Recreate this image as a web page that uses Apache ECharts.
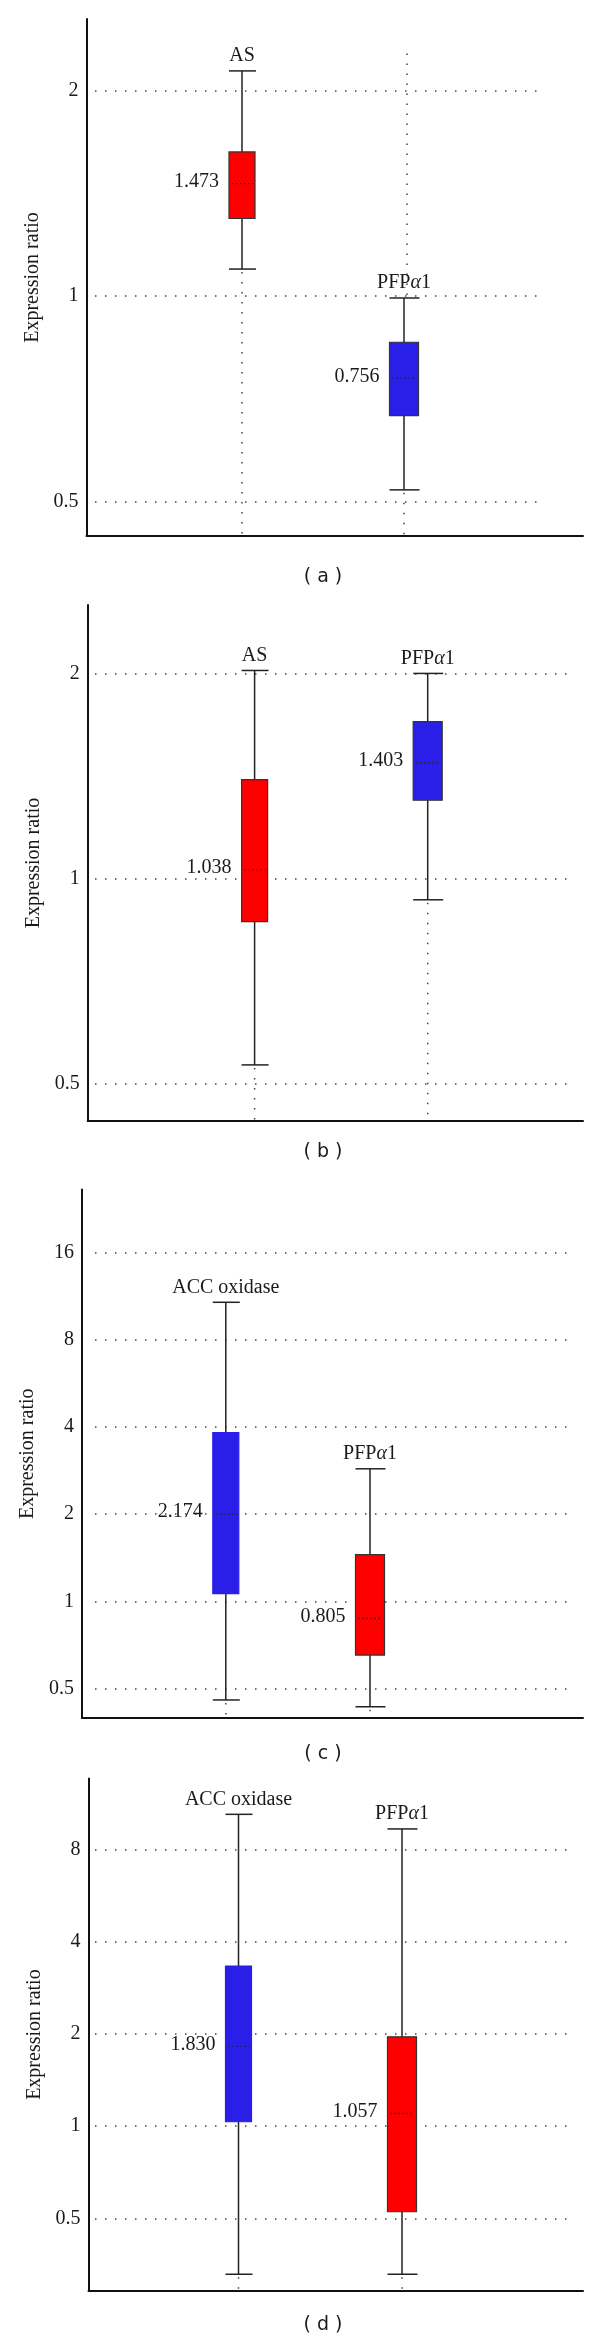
<!DOCTYPE html>
<html><head><meta charset="utf-8">
<script src="https://cdn.jsdelivr.net/npm/echarts@6/dist/echarts.min.js"></script>
<style>html,body{margin:0;padding:0;background:#fff}#c{width:600px;height:2341px}</style>
</head><body><div id="c"></div>
<script>
// ---------- DATA ----------
const catsA = ['AS', 'PFPα1'];
const catsB = ['AS', 'PFPα1'];
const catsC = ['ACC oxidase', 'PFPα1'];
const catsD = ['ACC oxidase', 'PFPα1'];
// each box: [lower whisker, Q1, median, Q3, upper whisker]
const boxesA = [[1.096, 1.30, 1.463, 1.628, 2.14], [0.520, 0.668, 0.758, 0.856, 0.994]];
const boxesB = [[0.533, 0.865, 1.03, 1.397, 2.02], [0.931, 1.303, 1.48, 1.70, 2.00]];
const boxesC = [[0.456, 1.063, 2.0, 3.83, 10.8], [0.432, 0.652, 0.872, 1.45, 2.87]];
const boxesD = [[0.329, 1.034, 1.82, 3.33, 10.4], [0.329, 0.526, 1.10, 1.957, 9.32]];
const medLabelsA = ['1.473', '0.756'];
const medLabelsB = ['1.038', '1.403'];
const medLabelsC = ['2.174', '0.805'];
const medLabelsD = ['1.830', '1.057'];
// upper dotted guide (only visible for PFPα1 in panel a)
const guideTopA = [null, 2.27];
const yRangeA = [0.445, 2.55];
const yRangeB = [0.441, 2.52];
const yRangeC = [0.395, 26.5];
const yRangeD = [0.291, 13.6];
const captions = ['( a )', '( b )', '( c )', '( d )'];
const yAxisTitle = 'Expression ratio';

// ---------- STYLE / LAYOUT ----------
const RED = '#ff0000', BLUE = '#2a1fe8';
const SERIF = "'Liberation Serif', 'DejaVu Serif', serif";
const SANS = "'DejaVu Sans', Verdana, sans-serif";
const TXT = '#1a1a1a';
const panels = [
  {cats: catsA, boxes: boxesA, med: medLabelsA, range: yRangeA, guide: guideTopA,
   fill: [RED, BLUE], stroke: ['#333', '#333'],
   top: 19, h: 517, axisX: 86.5, endX: 583, c1: 242, c2: 404, gridEnd: 545, capY: 577},
  {cats: catsB, boxes: boxesB, med: medLabelsB, range: yRangeB, guide: [null, null],
   fill: [RED, BLUE], stroke: ['#333', '#333'],
   top: 605, h: 516, axisX: 87.7, endX: 583, c1: 254.6, c2: 427.7, gridEnd: 570, capY: 1152},
  {cats: catsC, boxes: boxesC, med: medLabelsC, range: yRangeC, guide: [null, null],
   fill: [BLUE, RED], stroke: [BLUE, '#333'],
   top: 1189.5, h: 528.5, axisX: 82, endX: 583, c1: 225.8, c2: 370, gridEnd: 570, capY: 1754},
  {cats: catsD, boxes: boxesD, med: medLabelsD, range: yRangeD, guide: [null, null],
   fill: [BLUE, RED], stroke: [BLUE, '#333'],
   top: 1778.6, h: 512, axisX: 88.5, endX: 583, c1: 238.5, c2: 402, gridEnd: 570, capY: 2325}
];
const boxW = [26, 29];
const DOT = [1.5, 8.5];

function fmt(v) { return String(Math.round(v * 1000) / 1000); }
function richName(s) { return s.replace('α', '{a|α}'); }

const option = {
  animation: false,
  backgroundColor: '#fff',
  grid: [], xAxis: [], yAxis: [], series: [], graphic: []
};

panels.forEach((p, i) => {
  const g0 = option.grid.length;
  option.grid.push({left: p.axisX, top: p.top, width: p.endX - p.axisX, height: p.h});
  option.grid.push({left: 95, top: p.top, width: p.gridEnd - 95, height: p.h});
  const d = p.c2 - p.c1;
  option.grid.push({left: p.c1 - d / 2, top: p.top, width: 2 * d, height: p.h});

  const logAx = {type: 'log', logBase: 2, min: p.range[0], max: p.range[1]};
  option.xAxis.push({gridIndex: g0, type: 'value', min: 0, max: 1,
    axisLine: {show: true, onZero: false, lineStyle: {color: '#111', width: 2}},
    axisTick: {show: false}, axisLabel: {show: false}, splitLine: {show: false}});
  option.yAxis.push(Object.assign({gridIndex: g0,
    axisLine: {show: true, lineStyle: {color: '#111', width: 2}},
    axisTick: {show: false},
    axisLabel: {show: true, margin: 8, fontFamily: SERIF, fontSize: 20, color: TXT,
      showMinLabel: false, showMaxLabel: false, formatter: fmt},
    splitLine: {show: false},
    name: yAxisTitle, nameLocation: 'middle', nameGap: 44, nameRotate: 90,
    nameTextStyle: {fontFamily: SERIF, fontSize: 20, color: TXT}}, logAx));
  option.xAxis.push({gridIndex: g0 + 1, type: 'value', min: 0, max: 1, show: false});
  option.yAxis.push(Object.assign({gridIndex: g0 + 1,
    axisLine: {show: false}, axisTick: {show: false}, axisLabel: {show: false},
    splitLine: {show: true, showMinLine: false, showMaxLine: false,
      lineStyle: {color: '#444', width: 1.5, type: DOT}}}, logAx));
  option.xAxis.push({gridIndex: g0 + 2, type: 'category', data: p.cats, show: false, boundaryGap: true});
  option.yAxis.push(Object.assign({gridIndex: g0 + 2, show: false}, logAx));

  const data = p.boxes.map((b, j) => [j].concat(b));
  option.series.push({
    type: 'custom',
    xAxisIndex: g0 + 2, yAxisIndex: g0 + 2,
    encode: {x: 0, y: [1, 2, 3, 4, 5]},
    data: data,
    renderItem: function (params, api) {
      const j = api.value(0);
      const lo = api.coord([j, api.value(1)]);
      const q1 = api.coord([j, api.value(2)]);
      const md = api.coord([j, api.value(3)]);
      const q3 = api.coord([j, api.value(4)]);
      const hi = api.coord([j, api.value(5)]);
      const x = lo[0];
      const w = boxW[j];
      const bottom = params.coordSys.y + params.coordSys.height;
      const ln = '#222';
      const ch = [];
      ch.push({type: 'line', shape: {x1: x, y1: lo[1] + 3, x2: x, y2: bottom},
        style: {stroke: '#444', lineWidth: 1.5, lineDash: DOT}});
      if (p.guide[j] != null) {
        const gt = api.coord([j, p.guide[j]]);
        ch.push({type: 'line', shape: {x1: x + 3, y1: gt[1], x2: x + 3, y2: hi[1] - 3},
          style: {stroke: '#444', lineWidth: 1.5, lineDash: DOT}});
      }
      ch.push({type: 'line', shape: {x1: x, y1: hi[1], x2: x, y2: lo[1]},
        style: {stroke: ln, lineWidth: 1.5}});
      ch.push({type: 'line', shape: {x1: x - w / 2, y1: hi[1], x2: x + w / 2 + 1, y2: hi[1]},
        style: {stroke: ln, lineWidth: 1.5}});
      ch.push({type: 'line', shape: {x1: x - w / 2, y1: lo[1], x2: x + w / 2 + 1, y2: lo[1]},
        style: {stroke: ln, lineWidth: 1.5}});
      ch.push({type: 'rect', shape: {x: x - w / 2, y: q3[1], width: w, height: q1[1] - q3[1]},
        style: {fill: p.fill[j], stroke: p.stroke[j], lineWidth: 1.2}});
      ch.push({type: 'line', shape: {x1: x - w / 2 + 3, y1: md[1], x2: x + w / 2 - 2, y2: md[1]},
        style: {stroke: '#222', lineWidth: 1.3, lineDash: [1.3, 2.7]}});
      ch.push({type: 'text', x: x - w / 2 - 10, y: md[1] - 2,
        style: {text: p.med[j], fontFamily: SERIF, fontSize: 20, fill: TXT,
          align: 'right', verticalAlign: 'middle'}});
      ch.push({type: 'text', x: x, y: hi[1] - 5,
        style: {text: richName(p.cats[j]), fontFamily: SERIF, fontSize: 20, fill: TXT,
          align: 'center', verticalAlign: 'bottom',
          rich: {a: {fontFamily: SERIF, fontSize: 20, fontStyle: 'italic', fill: TXT}}}});
      return {type: 'group', children: ch};
    }
  });

  option.graphic.push({type: 'text', x: 323, y: p.capY,
    style: {text: captions[i], fontFamily: SANS, fontSize: 19, fill: TXT,
      align: 'center', verticalAlign: 'middle'}});
});

const chart = echarts.init(document.getElementById('c'), null, {renderer: 'canvas'});
chart.setOption(option);
</script>
</body></html>
